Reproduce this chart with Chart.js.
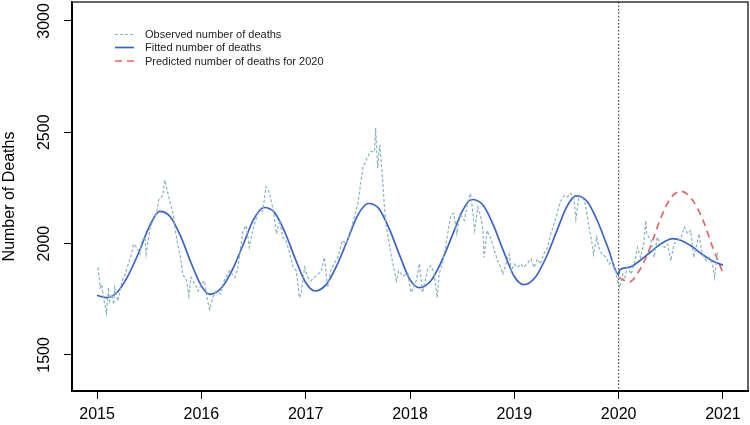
<!DOCTYPE html>
<html><head><meta charset="utf-8">
<script src="https://cdn.jsdelivr.net/npm/chart.js@4.4.1/dist/chart.umd.min.js"></script>
<style>html,body{margin:0;padding:0;background:#fff}#wrap{width:750px;height:425px}</style>
</head><body><div id="wrap"><canvas id="c" width="750" height="425"></canvas></div>
<script>
const obsYears = [2015.01,2015.03,2015.045,2015.06,2015.076,2015.09,2015.11,2015.12,2015.14,2015.16,2015.17,2015.20,2015.22,2015.24,2015.27,2015.30,2015.33,2015.35,2015.38,2015.41,2015.43,2015.46,2015.47,2015.51,2015.54,2015.57,2015.59,2015.63,2015.65,2015.68,2015.70,2015.73,2015.75,2015.78,2015.80,2015.82,2015.86,2015.88,2015.90,2015.94,2015.97,2016.00,2016.03,2016.06,2016.08,2016.11,2016.14,2016.18,2016.21,2016.27,2016.32,2016.35,2016.40,2016.43,2016.46,2016.50,2016.54,2016.59,2016.62,2016.65,2016.69,2016.72,2016.75,2016.78,2016.81,2016.84,2016.88,2016.91,2016.94,2016.96,2016.99,2017.02,2017.05,2017.08,2017.12,2017.15,2017.18,2017.21,2017.24,2017.27,2017.31,2017.35,2017.39,2017.42,2017.45,2017.50,2017.55,2017.58,2017.62,2017.66,2017.67,2017.69,2017.71,2017.72,2017.74,2017.755,2017.77,2017.80,2017.83,2017.87,2017.89,2017.93,2017.98,2018.01,2018.06,2018.09,2018.12,2018.17,2018.20,2018.23,2018.26,2018.28,2018.31,2018.34,2018.39,2018.42,2018.45,2018.48,2018.52,2018.55,2018.58,2018.60,2018.62,2018.65,2018.68,2018.70,2018.71,2018.74,2018.78,2018.81,2018.84,2018.87,2018.89,2018.92,2018.95,2018.97,2019.00,2019.03,2019.06,2019.09,2019.12,2019.16,2019.19,2019.22,2019.25,2019.28,2019.32,2019.35,2019.38,2019.41,2019.44,2019.48,2019.51,2019.54,2019.57,2019.59,2019.62,2019.65,2019.68,2019.71,2019.74,2019.76,2019.79,2019.81,2019.84,2019.88,2019.91,2019.94,2019.97,2019.99,2020.01,2020.04,2020.06,2020.08,2020.12,2020.15,2020.18,2020.21,2020.24,2020.26,2020.27,2020.31,2020.34,2020.37,2020.40,2020.44,2020.47,2020.50,2020.53,2020.57,2020.60,2020.63,2020.66,2020.69,2020.72,2020.75,2020.77,2020.80,2020.84,2020.87,2020.90,2020.92,2020.95];
const obsDeaths = [1893,1802,1817,1757,1727,1689,1802,1742,1772,1727,1802,1742,1787,1833,1863,1908,1953,1998,1983,1953,2014,2029,1953,2074,2104,2134,2195,2217,2285,2225,2187,2134,2059,1983,1938,1863,1833,1765,1848,1817,1787,1817,1833,1742,1704,1757,1787,1774,1825,1878,1848,1893,2059,2081,1983,2074,2134,2149,2255,2232,2149,2044,2104,2029,2014,1968,1893,1878,1757,1787,1893,1848,1833,1848,1863,1878,1938,1802,1878,1908,1938,2014,2000,2045,2089,2181,2345,2375,2413,2413,2519,2340,2443,2390,2270,2164,2090,2000,1923,1833,1878,1855,1864,1780,1833,1910,1780,1887,1900,1870,1757,1864,1910,1983,2127,2136,2045,2136,2104,2180,2226,2149,2059,2164,2119,2059,1938,2059,2014,1968,1923,1893,1863,1908,1953,1878,1908,1893,1908,1893,1908,1931,1893,1931,1908,1953,1983,2044,2089,2134,2187,2217,2210,2225,2210,2112,2217,2210,2180,2089,2014,1953,2029,1983,1953,1938,1908,1923,1878,1833,1802,1863,1848,1893,1863,1908,1983,1938,1998,2104,2044,2014,1938,2029,1998,1983,1998,1923,1998,2014,2029,2074,2044,2059,1938,1998,2044,1953,1923,1938,1908,1848,1968];

const fitYears = [2015.0,2015.09,2015.2,2015.3,2015.4,2015.5,2015.6,2015.7,2015.8,2015.9,2016.0,2016.08,2016.2,2016.3,2016.4,2016.5,2016.6,2016.7,2016.8,2016.9,2017.0,2017.09,2017.2,2017.3,2017.4,2017.5,2017.6,2017.7,2017.8,2017.9,2018.0,2018.09,2018.2,2018.3,2018.4,2018.5,2018.59,2018.7,2018.8,2018.9,2019.0,2019.09,2019.2,2019.3,2019.4,2019.5,2019.59,2019.7,2019.8,2019.9,2020.0,2020.01,2020.1,2020.2,2020.3,2020.4,2020.52,2020.6,2020.7,2020.8,2020.9,2021.0];
const fitDeaths = [1768,1757,1785,1858,1960,2075,2145,2122,2035,1915,1810,1772,1805,1885,1995,2108,2162,2140,2052,1932,1825,1787,1818,1903,2015,2128,2180,2158,2068,1948,1838,1802,1833,1918,2030,2145,2198,2173,2082,1962,1852,1816,1848,1933,2048,2163,2214,2188,2098,1978,1862,1882,1893,1922,1960,1997,2022,2014,1988,1952,1922,1903];

const predYears = [2020.0,2020.1,2020.2,2020.3,2020.4,2020.5,2020.6,2020.7,2020.8,2020.9,2021.0];
const predDeaths = [1848,1828,1880,1980,2110,2205,2235,2200,2115,1985,1868];

const xTickYears = [2015,2016,2017,2018,2019,2020,2021];
const yTickValues = [1500,2000,2500,3000];
const seriesLabels = ['Observed number of deaths','Fitted number of deaths','Predicted number of deaths for 2020'];
const cutYear = 2020;

const FONT = "'Liberation Sans', Arial, Helvetica, sans-serif";
const toXY = (xs, ys) => xs.map((x, i) => ({x, y: ys[i]}));

const extras = {
  id: 'extras',
  beforeDatasetsDraw(chart) {
    const {ctx, chartArea, scales} = chart;
    const x = scales.x.getPixelForValue(cutYear);
    ctx.save();
    ctx.strokeStyle = '#444';
    ctx.lineWidth = 1.2;
    ctx.setLineDash([1.5, 2]);
    ctx.beginPath();
    ctx.moveTo(x, chartArea.top);
    ctx.lineTo(x, chartArea.bottom);
    ctx.stroke();
    ctx.restore();
  },
  afterDraw(chart) {
    const {ctx, chartArea, scales} = chart;
    ctx.save();
    ctx.strokeStyle = '#333';
    ctx.lineWidth = 1.5;
    ctx.beginPath();
    ctx.moveTo(chartArea.left, chartArea.top);
    ctx.lineTo(chartArea.right, chartArea.top);
    ctx.lineTo(chartArea.right, chartArea.bottom);
    ctx.stroke();
    ctx.fillStyle = '#000';
    ctx.font = '16px ' + FONT;
    ctx.textAlign = 'center';
    ctx.textBaseline = 'middle';
    yTickValues.forEach(v => {
      const y = scales.y.getPixelForValue(v);
      ctx.save();
      ctx.translate(45, y);
      ctx.rotate(-Math.PI / 2);
      ctx.fillText(String(v), 0, 0);
      ctx.restore();
    });
    const rows = [34.5, 47.5, 61];
    ctx.font = '11px ' + FONT;
    ctx.textAlign = 'left';
    chart.data.datasets.forEach((ds, i) => {
      const y = rows[i];
      ctx.save();
      ctx.strokeStyle = ds.borderColor;
      ctx.lineWidth = ds.borderWidth;
      ctx.setLineDash(ds.borderDash || []);
      ctx.beginPath();
      ctx.moveTo(115, y);
      ctx.lineTo(134, y);
      ctx.stroke();
      ctx.restore();
      ctx.fillStyle = '#222';
      ctx.fillText(seriesLabels[i], 145, y + 0.5);
    });
    ctx.restore();
  }
};

new Chart(document.getElementById('c'), {
  type: 'line',
  data: {
    datasets: [
      {label: seriesLabels[0], data: toXY(obsYears, obsDeaths), borderColor: '#8ab2c2', borderWidth: 1.2, borderDash: [3, 2], pointRadius: 0, tension: 0},
      {label: seriesLabels[1], data: toXY(fitYears, fitDeaths), borderColor: '#3a62c6', borderWidth: 1.7, pointRadius: 0, cubicInterpolationMode: 'monotone'},
      {label: seriesLabels[2], data: toXY(predYears, predDeaths), borderColor: '#e06666', borderWidth: 1.7, borderDash: [7, 5], pointRadius: 0, cubicInterpolationMode: 'monotone'}
    ]
  },
  options: {
    responsive: false,
    animation: false,
    devicePixelRatio: 1,
    layout: {padding: {left: 0, top: 2, right: 2, bottom: 0}},
    plugins: {legend: {display: false}, tooltip: {enabled: false}},
    scales: {
      x: {
        type: 'linear', position: 'bottom', min: 2014.76, max: 2021.24,
        afterBuildTicks: s => { s.ticks = xTickYears.map(v => ({value: v})); },
        afterFit: s => { s.height = 34; },
        grid: {drawOnChartArea: false, drawTicks: true, tickLength: 8, color: '#000', lineWidth: 1},
        border: {display: true, color: '#000', width: 2},
        ticks: {font: {family: FONT, size: 16}, color: '#000', padding: 6, maxRotation: 0, autoSkip: false, callback: v => String(v)}
      },
      y: {
        type: 'linear', position: 'left', min: 1338, max: 3085,
        afterBuildTicks: s => { s.ticks = yTickValues.map(v => ({value: v})); },
        afterFit: s => { s.width = 72; },
        grid: {drawOnChartArea: false, drawTicks: true, tickLength: 8, color: '#000', lineWidth: 1},
        border: {display: true, color: '#000', width: 2},
        ticks: {display: false},
        title: {display: true, text: 'Number of Deaths', font: {family: FONT, size: 16}, color: '#000', padding: {top: 0, bottom: 0}}
      }
    }
  },
  plugins: [extras]
});
</script>
</body></html>
